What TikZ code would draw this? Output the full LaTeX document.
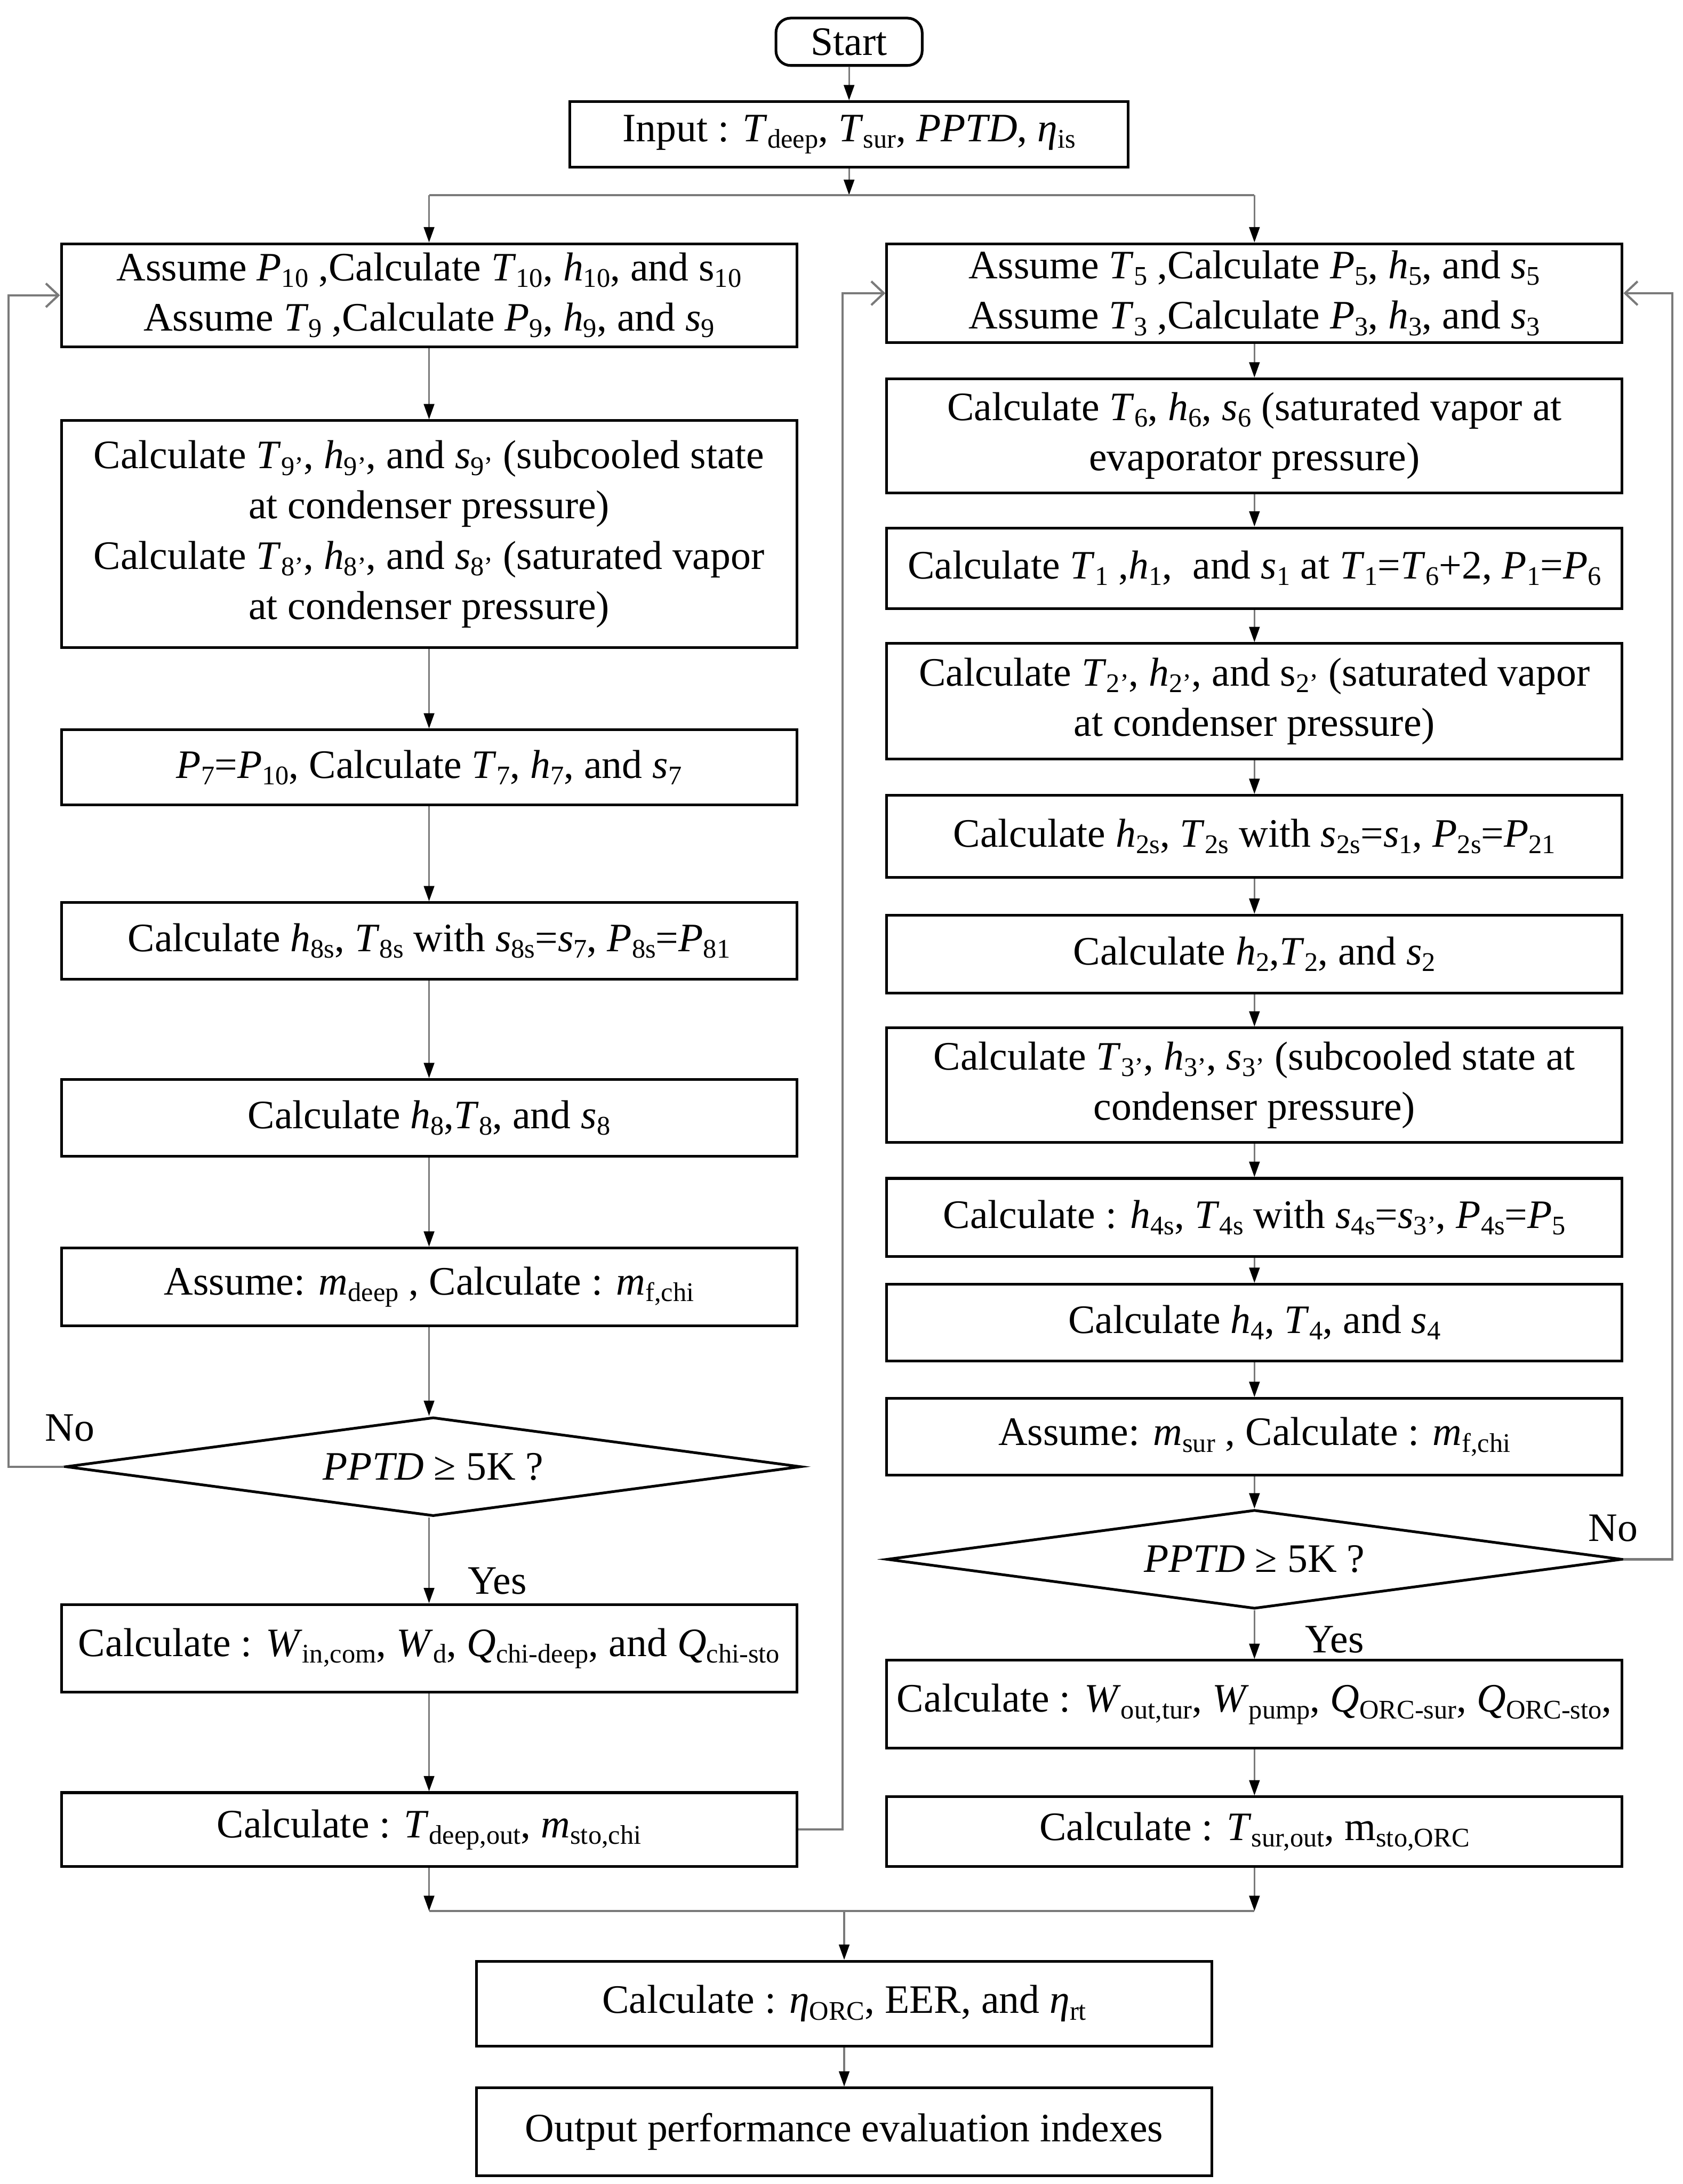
\documentclass[tikz,border=0pt]{standalone}
\usepackage{fontspec}
\setmainfont{Liberation Serif}
\usetikzlibrary{arrows.meta, shapes.geometric}
\definecolor{cline}{HTML}{7A7A7A}
\tikzset{
  every picture/.style={line width=1pt},
  box/.style={draw=black, line width=1.1pt, align=center, minimum width=10.56cm, inner sep=2pt, font=\fontsize{16.5}{20.5}\selectfont},
  test/.style={diamond, aspect=7.4, draw=black, line width=1.1pt, minimum width=10.56cm, minimum height=1.42cm, inner sep=0pt, font=\fontsize{16.5}{20.5}\selectfont},
  flow/.style={-{Triangle[length=2.2mm, width=1.5mm, color=black]}, draw=cline, line width=0.7pt},
  back/.style={-{Straight Barb[length=1.8mm, width=3.4mm]}, draw=cline, line width=0.9pt},
  bus/.style={draw=cline, line width=0.9pt},
  lbl/.style={font=\fontsize{16.5}{20.5}\selectfont},
}
\newcommand{\ix}[1]{\raisebox{-0.35ex}{\fontsize{11}{11}\selectfont #1}}
\newcommand{\iv}[2]{\textit{#1}\ix{#2}}

\begin{document}
\begin{tikzpicture}[x=0.02cm, y=-0.02cm]
  \useasboundingbox (0,0) rectangle (1208,1568);
  % top
  \node[box, rounded corners=6pt, minimum width=2.1cm, minimum height=0.68cm] (start) at (609.5,30) {Start};
  \node[box, minimum width=8.02cm, minimum height=0.94cm] (input) at (609.5,96.5) {Input : \iv{T}{deep}, \iv{T}{sur}, \textit{PPTD}, \iv{η}{is}};
  \coordinate (top) at (609.5,140);
  % chiller side
  \node[box, minimum height=1.48cm] (L1) at (308,212) {Assume \iv{P}{10} ,Calculate \iv{T}{10}, \iv{h}{10}, and s\ix{10}\\ Assume \iv{T}{9} ,Calculate \iv{P}{9}, \iv{h}{9}, and \iv{s}{9}};
  \node[box, minimum height=3.26cm] (L2) at (308,383.5) {Calculate \iv{T}{9’}, \iv{h}{9’}, and \iv{s}{9’} (subcooled state\\ at condenser pressure)\\ Calculate \iv{T}{8’}, \iv{h}{8’}, and \iv{s}{8’} (saturated vapor\\ at condenser pressure)};
  \node[box, minimum height=1.08cm] (L3) at (308,551) {\iv{P}{7}=\iv{P}{10}, Calculate \iv{T}{7}, \iv{h}{7}, and \iv{s}{7}};
  \node[box, minimum height=1.1cm] (L4) at (308,675.5) {Calculate \iv{h}{8s}, \iv{T}{8s} with \iv{s}{8s}=\iv{s}{7}, \iv{P}{8s}=\iv{P}{81}};
  \node[box, minimum height=1.1cm] (L5) at (308,802.5) {Calculate \iv{h}{8},\iv{T}{8}, and \iv{s}{8}};
  \node[box, minimum height=1.12cm] (L6) at (308,924) {Assume: \iv{m}{deep} , Calculate : \iv{m}{f,chi}};
  \node[test] (Ltest) at (311,1053) {\textit{PPTD} ≥ 5K ?};
  \node[box, minimum height=1.26cm] (L7) at (308,1183.5) {Calculate : \iv{W}{in,com}, \iv{W}{d}, \iv{Q}{chi-deep}, and \iv{Q}{chi-sto}};
  \node[box, minimum height=1.06cm] (L8) at (308,1313.5) {Calculate : \iv{T}{deep,out}, \iv{m}{sto,chi}};
  % ORC side
  \node[box, minimum height=1.42cm] (R1) at (900.5,210.5) {Assume \iv{T}{5} ,Calculate \iv{P}{5}, \iv{h}{5}, and \iv{s}{5}\\ Assume \iv{T}{3} ,Calculate \iv{P}{3}, \iv{h}{3}, and \iv{s}{3}};
  \node[box, minimum height=1.64cm] (R2) at (900.5,313) {Calculate \iv{T}{6}, \iv{h}{6}, \iv{s}{6} (saturated vapor at\\ evaporator pressure)};
  \node[box, minimum height=1.16cm] (R3) at (900.5,408) {Calculate \iv{T}{1} ,\iv{h}{1},\ \ and \iv{s}{1} at \iv{T}{1}=\iv{T}{6}+2, \iv{P}{1}=\iv{P}{6}};
  \node[box, minimum height=1.66cm] (R4) at (900.5,503.5) {Calculate \iv{T}{2’}, \iv{h}{2’}, and s\ix{2’} (saturated vapor\\ at condenser pressure)};
  \node[box, minimum height=1.18cm] (R5) at (900.5,600.5) {Calculate \iv{h}{2s}, \iv{T}{2s} with \iv{s}{2s}=\iv{s}{1}, \iv{P}{2s}=\iv{P}{21}};
  \node[box, minimum height=1.12cm] (R6) at (900.5,685) {Calculate \iv{h}{2},\iv{T}{2}, and \iv{s}{2}};
  \node[box, minimum height=1.64cm] (R7) at (900.5,779) {Calculate \iv{T}{3’}, \iv{h}{3’}, \iv{s}{3’} (subcooled state at\\ condenser pressure)};
  \node[box, minimum height=1.12cm] (R8) at (900.5,874) {Calculate : \iv{h}{4s}, \iv{T}{4s} with \iv{s}{4s}=\iv{s}{3’}, \iv{P}{4s}=\iv{P}{5}};
  \node[box, minimum height=1.1cm] (R9) at (900.5,949.5) {Calculate \iv{h}{4}, \iv{T}{4}, and \iv{s}{4}};
  \node[box, minimum height=1.1cm] (R10) at (900.5,1031.5) {Assume: \iv{m}{sur} , Calculate : \iv{m}{f,chi}};
  \node[test] (Rtest) at (900.5,1119.5) {\textit{PPTD} ≥ 5K ?};
  \node[box, minimum height=1.26cm] (R11) at (900.5,1223.5) {Calculate : \iv{W}{out,tur}, \iv{W}{pump}, \iv{Q}{ORC-sur}, \iv{Q}{ORC-sto},};
  \node[box, minimum height=1.0cm] (R12) at (900.5,1315) {Calculate : \iv{T}{sur,out}, m\ix{sto,ORC}};
  % bottom
  \coordinate (bot) at (606,1372);
  \node[box, minimum height=1.22cm] (B1) at (606,1438.5) {Calculate : \iv{η}{ORC}, EER, and \iv{η}{rt}};
  \node[box, minimum height=1.26cm] (B2) at (606,1530.5) {Output performance evaluation indexes};
  % labels
  \node[lbl] (noL) at (50,1025) {No};
  \node[lbl] (yesL) at (357,1135) {Yes};
  \node[lbl] (noR) at (1158,1097) {No};
  \node[lbl] (yesR) at (958,1177) {Yes};
  % connectors
  \draw[flow] (start) -- (input);
  \draw[flow] (input) -- (top);
  \draw[bus] (L1.north |- top) -- (R1.north |- top);
  \draw[flow] (L1.north |- top) -- (L1);
  \draw[flow] (R1.north |- top) -- (R1);
  \foreach \a/\b in {L1/L2, L2/L3, L3/L4, L4/L5, L5/L6, L7/L8,
                     R1/R2, R2/R3, R3/R4, R4/R5, R5/R6, R6/R7, R7/R8, R8/R9, R9/R10, R10/Rtest, Rtest/R11, R11/R12, B1/B2}
    \draw[flow] (\a) -- (\b);
  \draw[flow] (L6.south) -- (L6.south |- Ltest.north);
  \draw[flow] (L6.south |- Ltest.south) -- (L7);
  \draw[back] (Ltest.west) -- ++(-40,0) |- (L1.west);
  \draw[back] (Rtest.east) -- ++(35,0) |- (R1.east);
  \draw[back] (L8.east) -- ++(32,0) |- (R1.west);
  \draw[flow] (L8) -- (L8.south |- bot);
  \draw[flow] (R12) -- (R12.south |- bot);
  \draw[bus] (L8.south |- bot) -- (R12.south |- bot);
  \draw[flow] (bot) -- (B1);
\end{tikzpicture}
\end{document}
